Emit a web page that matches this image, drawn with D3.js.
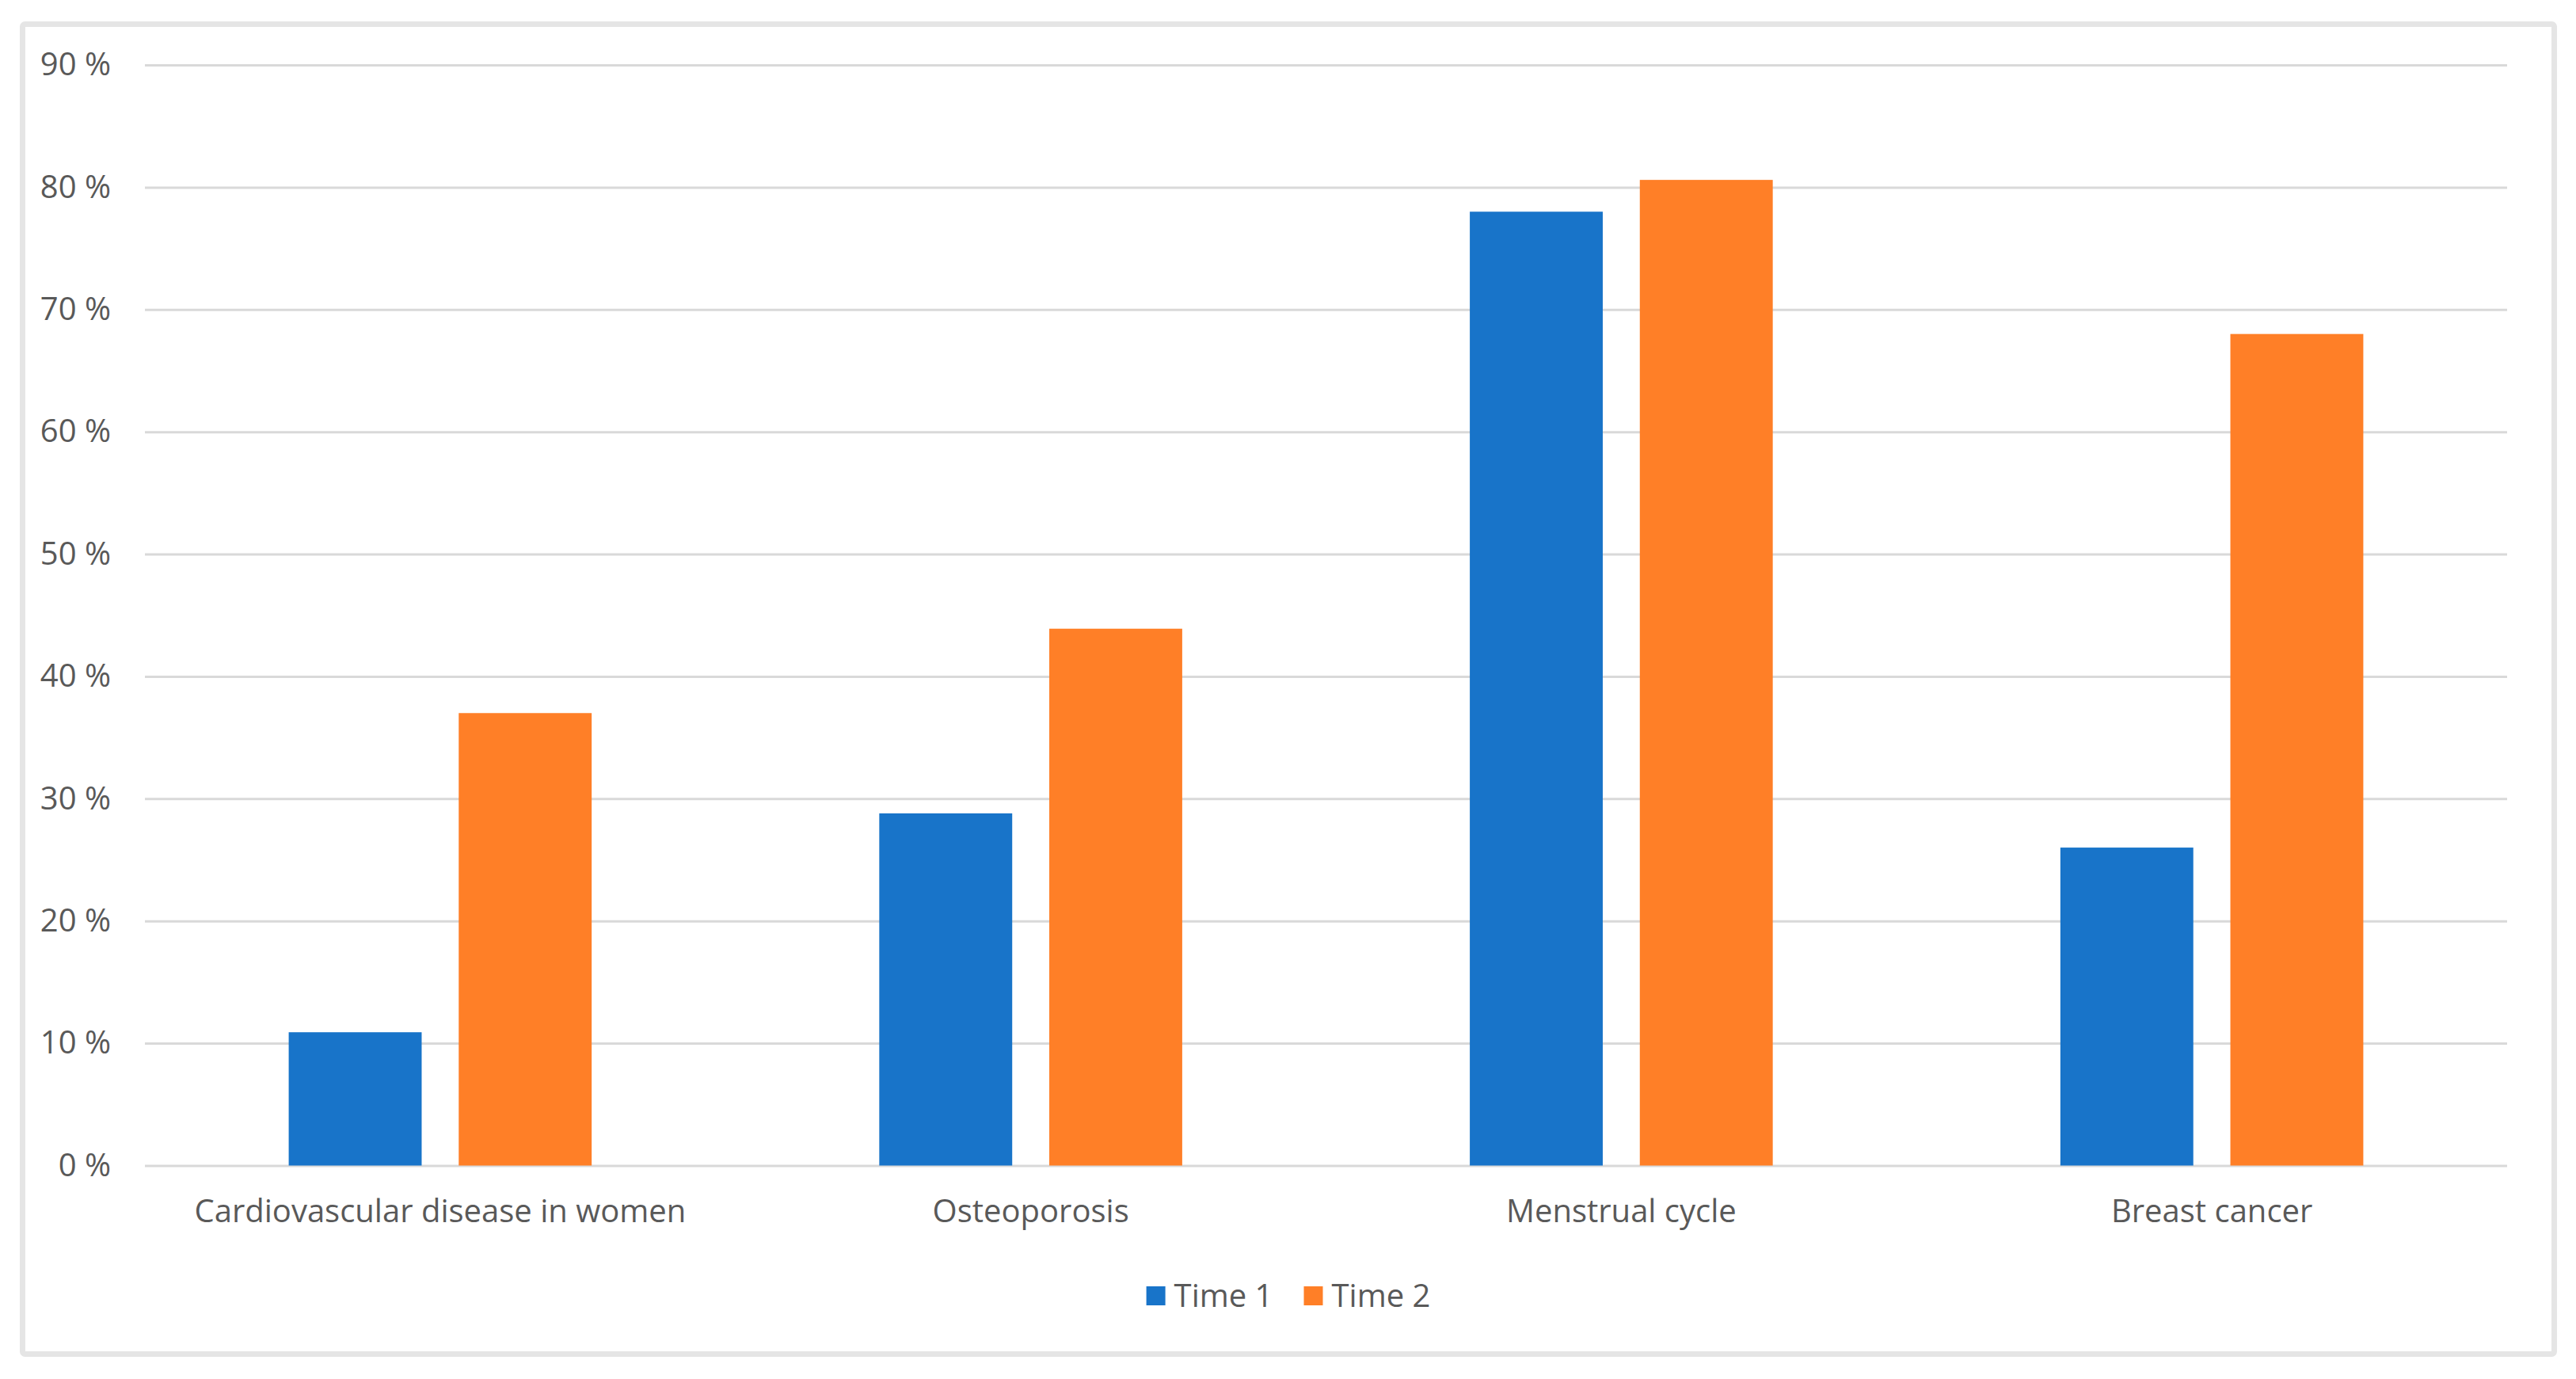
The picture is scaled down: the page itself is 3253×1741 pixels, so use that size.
<!DOCTYPE html>
<html>
<head>
<meta charset="utf-8">
<script src="https://cdn.jsdelivr.net/npm/d3@7"></script>
<style>
  html, body { margin: 0; padding: 0; background: #ffffff; }
  svg { display: block; }
  text { font-family: "Open Sans", "Noto Sans", sans-serif; fill: #595959; }
</style>
</head>
<body>
<script>
const categories = ["Cardiovascular disease in women", "Osteoporosis", "Menstrual cycle", "Breast cancer"];
const seriesNames = ["Time 1", "Time 2"];
const time1 = [10.9, 28.8, 78, 26];
const time2 = [37, 43.9, 80.6, 68];
const yTicks = [0, 10, 20, 30, 40, 50, 60, 70, 80, 90];
const colors = ["#1874c9", "#ff7f27"];

const W = 3253, H = 1741;
const FS = 40;
const svg = d3.select("body").append("svg").attr("width", W).attr("height", H);

// chart frame
svg.append("rect")
  .attr("x", 28.5).attr("y", 30.5)
  .attr("width", 3197).attr("height", 1679)
  .attr("rx", 3)
  .attr("fill", "#ffffff")
  .attr("stroke", "#e5e5e5")
  .attr("stroke-width", 7);

const plot = { left: 183, right: 3166, top: 82, bottom: 1471.5 };

const y = d3.scaleLinear().domain([0, 90]).range([plot.bottom, plot.top]);
const x0 = d3.scaleBand().domain(categories).range([plot.left, plot.right]).padding(0);
const groupFrac = 0.513;
const x1 = d3.scaleBand().domain(seriesNames)
  .range([x0.bandwidth() * (1 - groupFrac) / 2, x0.bandwidth() * (1 + groupFrac) / 2])
  .paddingInner(0.218).paddingOuter(0);

// gridlines + y labels
const yAxis = d3.axisLeft(y).tickValues(yTicks).tickSize(-(plot.right - plot.left)).tickFormat(d => d + " %").tickPadding(43);
const gy = svg.append("g").attr("transform", `translate(${plot.left},0)`).call(yAxis);
gy.select(".domain").remove();
gy.selectAll(".tick line").attr("stroke", "#d9d9d9").attr("stroke-width", 3);
gy.selectAll(".tick text")
  .attr("font-size", FS)
  .attr("font-family", "\"Open Sans\", \"Noto Sans\", sans-serif")
  .attr("fill", "#595959");

// bars
const data = categories.map((c, i) => ({ cat: c, vals: [time1[i], time2[i]] }));
const groups = svg.append("g").selectAll("g").data(data).join("g")
  .attr("transform", d => `translate(${x0(d.cat)},0)`);
groups.selectAll("rect")
  .data(d => d.vals.map((v, j) => ({ name: seriesNames[j], v, j })))
  .join("rect")
  .attr("x", d => x1(d.name))
  .attr("width", x1.bandwidth())
  .attr("y", d => y(d.v))
  .attr("height", d => y(0) - y(d.v))
  .attr("fill", d => colors[d.j]);

// x labels
const xAxis = d3.axisBottom(x0).tickSize(0).tickPadding(43);
const gx = svg.append("g").attr("transform", `translate(0,${plot.bottom})`).call(xAxis);
gx.select(".domain").remove();
gx.selectAll(".tick text")
  .attr("font-size", FS)
  .attr("font-family", "\"Open Sans\", \"Noto Sans\", sans-serif")
  .attr("fill", "#595959");

// legend
const legend = svg.append("g");
const sq = 24, gapText = 11, itemGap = 39, legendY = 1636;
const items = legend.selectAll("g").data(seriesNames).join("g");
items.append("rect").attr("width", sq).attr("height", sq).attr("y", legendY - sq / 2)
  .attr("fill", (d, i) => colors[i]);
items.append("text").attr("x", sq + gapText).attr("y", legendY).attr("dy", "0.35em")
  .attr("font-size", FS).text(d => d);
const widths = [];
items.each(function() {
  const w = sq + gapText + d3.select(this).select("text").node().getComputedTextLength();
  widths.push(w);
});
const total = d3.sum(widths) + itemGap * (widths.length - 1);
let start = (28.5 + 3225.5) / 2 - total / 2;
items.attr("transform", (d, i) => {
  const t = `translate(${start},0)`;
  start += widths[i] + itemGap;
  return t;
});
</script>
</body>
</html>
